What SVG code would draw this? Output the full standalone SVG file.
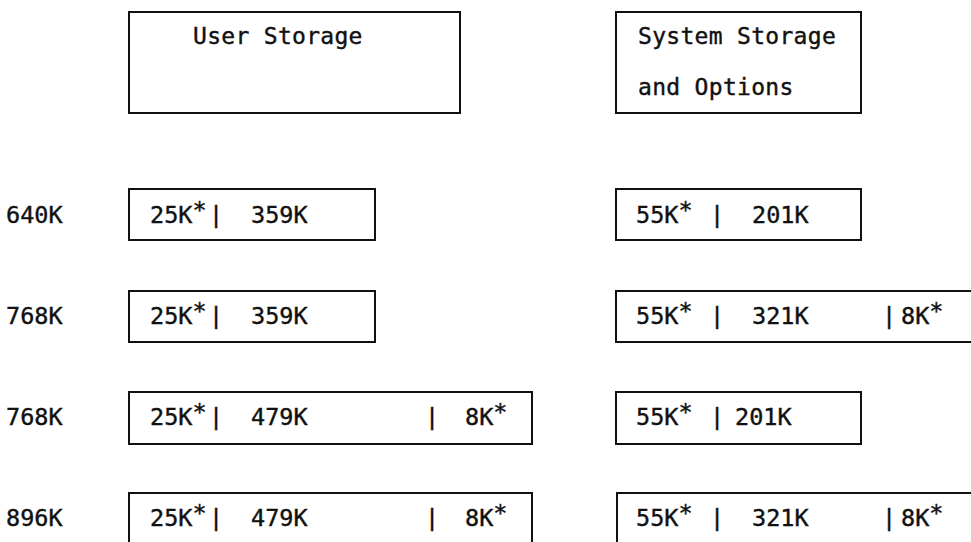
<svg xmlns="http://www.w3.org/2000/svg" width="971" height="542" viewBox="0 0 971 542">
<style>
rect.box { fill: none; stroke: #111; stroke-width: 2; }
text { font-family: "DejaVu Sans Mono", "Liberation Mono", monospace; fill: #111; stroke: #111; stroke-width: 0.4; font-size: 23.5px; }
text.hdr { font-size: 23px; letter-spacing: 0.3px; }
</style>
<rect width="971" height="542" fill="#fff"/>
<g id="hdr-user">
  <rect class="box" x="129" y="12" width="331" height="101"/>
  <text class="hdr" x="193" y="44">User Storage</text>
</g>
<g id="hdr-system">
  <rect class="box" x="616" y="12" width="245" height="101"/>
  <text class="hdr" x="638" y="44">System Storage</text>
  <text class="hdr" x="638" y="95">and Options</text>
</g>
<g id="labels">
  <text x="6" y="223">640K</text>
  <text x="6" y="324">768K</text>
  <text x="6" y="425">768K</text>
  <text x="6" y="526">896K</text>
</g>
<g id="row1-user">
  <rect class="box" x="129" y="189" width="246" height="51"/>
  <text x="150" y="223">25K<tspan dy="-5">*</tspan></text><text x="209" y="223">|</text><text x="251" y="223">359K</text>
</g>
<g id="row1-system">
  <rect class="box" x="616" y="189" width="245" height="51"/>
  <text x="636" y="223">55K<tspan dy="-5">*</tspan></text><text x="710" y="223">|</text><text x="752" y="223">201K</text>
</g>
<g id="row2-user">
  <rect class="box" x="129" y="291" width="246" height="51"/>
  <text x="150" y="324">25K<tspan dy="-5">*</tspan></text><text x="209" y="324">|</text><text x="251" y="324">359K</text>
</g>
<g id="row2-system">
  <rect class="box" x="616" y="291" width="365" height="51"/>
  <text x="636" y="324">55K<tspan dy="-5">*</tspan></text><text x="710" y="324">|</text><text x="752" y="324">321K</text><text x="882" y="324">|</text><text x="901" y="324">8K<tspan dy="-5">*</tspan></text>
</g>
<g id="row3-user">
  <rect class="box" x="129" y="392" width="403" height="52"/>
  <text x="150" y="425">25K<tspan dy="-5">*</tspan></text><text x="209" y="425">|</text><text x="251" y="425">479K</text><text x="425" y="425">|</text><text x="465" y="425">8K<tspan dy="-5">*</tspan></text>
</g>
<g id="row3-system">
  <rect class="box" x="616" y="392" width="245" height="52"/>
  <text x="636" y="425">55K<tspan dy="-5">*</tspan></text><text x="710" y="425">|</text><text x="735" y="425">201K</text>
</g>
<g id="row4-user">
  <rect class="box" x="129" y="493" width="403" height="60"/>
  <text x="150" y="526">25K<tspan dy="-5">*</tspan></text><text x="209" y="526">|</text><text x="251" y="526">479K</text><text x="425" y="526">|</text><text x="465" y="526">8K<tspan dy="-5">*</tspan></text>
</g>
<g id="row4-system">
  <rect class="box" x="617" y="493" width="365" height="60"/>
  <text x="636" y="526">55K<tspan dy="-5">*</tspan></text><text x="710" y="526">|</text><text x="752" y="526">321K</text><text x="882" y="526">|</text><text x="901" y="526">8K<tspan dy="-5">*</tspan></text>
</g>
<g id="connectors"/>
</svg>
